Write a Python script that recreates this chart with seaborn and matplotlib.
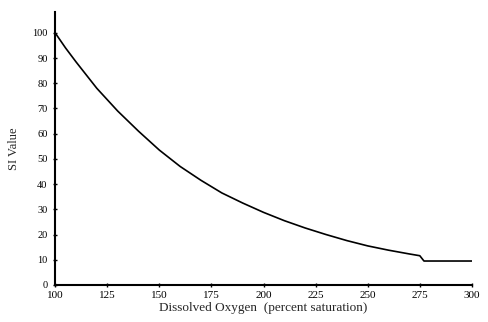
import matplotlib
matplotlib.use("Agg")
import matplotlib.pyplot as plt
import seaborn as sns
import pandas as pd

# values
dissolved_oxygen = [100, 105, 110, 120, 130, 140, 150, 160, 170, 180, 190, 200,
                    210, 220, 230, 240, 250, 260, 270, 275, 277, 300]
si_value = [100, 94, 88.5, 78, 69, 61, 53.5, 47, 41.5, 36.5, 32.5, 28.8,
            25.5, 22.6, 20, 17.6, 15.5, 13.8, 12.3, 11.6, 9.5, 9.5]
x_ticks = [100, 125, 150, 175, 200, 225, 250, 275, 300]
y_ticks = [0, 10, 20, 30, 40, 50, 60, 70, 80, 90, 100]

df = pd.DataFrame({"DO": dissolved_oxygen, "SI": si_value})

sns.set_style("ticks")
plt.rcParams["font.family"] = ["Liberation Serif", "DejaVu Serif"]

fig = plt.figure(figsize=(4.88, 3.22), dpi=100)
ax = fig.add_axes([0.113, 0.115, 0.854, 0.848])

sns.lineplot(data=df, x="DO", y="SI", color="black", linewidth=1.2, ax=ax)

ax.set_xlim(100, 300)
ax.set_ylim(0, 108.3)
ax.set_xticks(x_ticks)
ax.set_yticks(y_ticks)
ax.set_xticklabels([str(t) for t in x_ticks], fontsize=8)
ax.set_yticklabels([str(t) for t in y_ticks], fontsize=7.5)
ax.tick_params(axis="both", direction="inout", length=3, width=1, colors="black")
ax.tick_params(axis="x", pad=3)
ax.tick_params(axis="y", pad=4)

ax.set_xlabel("Dissolved Oxygen  (percent saturation)", fontsize=9.5, labelpad=1)
ax.set_ylabel("SI Value", fontsize=9, labelpad=9)

sns.despine(ax=ax)
for side in ["left", "bottom"]:
    ax.spines[side].set_linewidth(1.5)
    ax.spines[side].set_color("black")

fig.savefig("out.png", dpi=100)
